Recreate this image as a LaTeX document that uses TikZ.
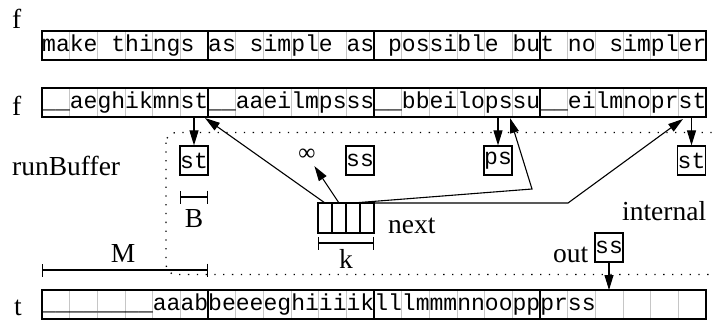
\documentclass[tikz,border=0pt]{standalone}
\usepackage{fontspec}
\setmainfont{Liberation Serif}
\newfontfamily\cellfont{Liberation Mono}
\usetikzlibrary{arrows.meta}
\begin{document}
\begin{tikzpicture}[x=1bp,y=-1bp,
  lab/.style={font=\fontsize{27.5bp}{30bp}\selectfont, inner sep=0},
  mono/.style={font=\cellfont\fontsize{23.06bp}{25bp}\selectfont, inner sep=0},
  cellbox/.style={draw, line width=1.2bp, minimum width=28bp, minimum height=29bp, inner sep=0, font=\cellfont\fontsize{23.06bp}{25bp}\selectfont},
  rowbox/.style={draw, line width=1.2bp, minimum width=664bp, minimum height=29bp, inner sep=0},
  sep/.style={gray!45, line width=0.9bp},
  blk/.style={black, line width=1.2bp},
  ptr/.style={line width=1.1bp, -{Triangle[length=15bp,width=9bp]}},
  bar/.style={line width=1.1bp, {Bar[width=13bp]}-{Bar[width=13bp]}},
  dots/.style={line width=1.3bp, dash pattern=on 1.3bp off 7.5bp}
]
\useasboundingbox (0,0) rectangle (712,321);

% dotted internal region
\draw[dots, rounded corners=10bp] (166,132.5) rectangle (722,274.5);

% grey cell separators
\foreach \y in {31,88,290} {
  \foreach \i in {1,...,23} { \draw[sep] ({42+\i*27.667},\y) -- ++(0,29); }
}

% row texts
\node[mono, anchor=base west] (txt1) at (42,51) {make things as simple as possible but no simpler};
\node[mono, anchor=base west] (txt2) at (42,108) {\_\_aeghikmnst\_\_aaeilmpsss\_\_bbeilopssu\_\_eilmnoprst};
\node[mono, anchor=base west] (txt3) at (42,310) {\_\_\_\_\_\_\_\_aaabbeeeeghiiiiklllmmmnnooppprss};

% row frames
\node[rowbox] (row1) at (374,45.5) {};
\node[rowbox] (row2) at (374,102.5) {};
\node[rowbox] (row3) at (374,304.5) {};
\foreach \y in {31,88,290} {
  \foreach \x in {208,374,540} { \draw[blk] (\x,\y) -- ++(0,29); }
}

% labels
\node[lab, anchor=base west] (fA) at (12,28) {f};
\node[lab, anchor=base west] (fB) at (12,115) {f};
\node[lab, anchor=base west] (tl) at (14,315) {t};
\node[lab, anchor=base west] (rb) at (12,175) {runBuffer};
\node[lab, anchor=base west] (intl) at (622,220) {internal};
\node[lab, anchor=base west] (nx) at (388,233) {next};
\node[lab, anchor=base west] (ot) at (553,262) {out};
\node[lab, anchor=base] (Ml) at (123,262) {M};
\node[lab, anchor=base] (Bl) at (194,227) {B};
\node[lab, anchor=base] (kl) at (346,268) {k};
\node[inner sep=1bp, font=\fontsize{24bp}{26bp}\selectfont] (inf) at (307,155) {∞};

% run buffer cells
\node[cellbox] (st1) at (194,160.5) {st};
\node[cellbox] (ss1) at (360,160.5) {ss};
\node[cellbox] (ps1) at (498,160.5) {ps};
\node[cellbox] (st2) at (691.5,160.5) {st};
\node[cellbox] (out1) at (609,247.5) {ss};

% queue
\node[draw, line width=1.2bp, minimum width=56bp, minimum height=30bp, inner sep=0] (q) at (346,218) {};
\foreach \x in {332,346,360} { \draw[blk] (\x,203) -- (\x,233); }

% coordinates
\coordinate (a1) at (194,117.6);
\coordinate (a2) at (498,117.6);
\coordinate (a3) at (691.5,117.6);
\coordinate (o1) at (609,290);
\coordinate (q1) at (325,203);
\coordinate (q2) at (339,203);
\coordinate (q3) at (353,203);
\coordinate (q4) at (367,203);
\coordinate (t1) at (205,118);
\coordinate (t3) at (510,118);
\coordinate (t4) at (683,119);
\coordinate (m3) at (532,189);
\coordinate (m4) at (568,203);

% arrows
\draw[ptr] (a1) -- (st1);
\draw[ptr] (a2) -- (ps1);
\draw[ptr] (a3) -- (st2);
\draw[ptr] (out1) -- (o1);
\draw[ptr] (q1) -- (t1);
\draw[ptr, shorten >=5bp] (q2) -- (inf);
\draw[ptr] (q3) -- (m3) -- (t3);
\draw[ptr] (q4) -- (m4) -- (t4);

% scale bars
\coordinate (b1) at (180,197); \coordinate (b2) at (208,197);
\coordinate (k1) at (318,243); \coordinate (k2) at (374,243);
\coordinate (M1) at (42,270);  \coordinate (M2) at (208,270);
\draw[bar] (b1) -- (b2);
\draw[bar] (k1) -- (k2);
\draw[bar] (M1) -- (M2);
\end{tikzpicture}
\end{document}
